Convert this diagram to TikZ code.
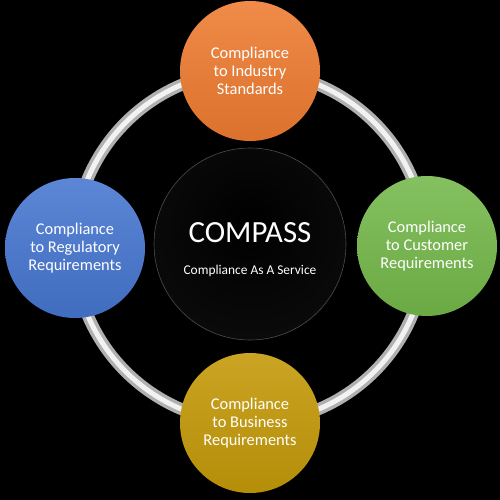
\documentclass[tikz,border=0pt]{standalone}
\usepackage{fontspec}
\setmainfont{Carlito}
\usepackage{xcolor}
\usepackage{tikz}

\definecolor{orangeball}{HTML}{EE7B30}
\definecolor{blueball}{HTML}{4676D0}
\definecolor{greenball}{HTML}{74B84A}
\definecolor{goldball}{HTML}{C49A0A}
\definecolor{ringgray}{HTML}{B0B0B0}

\pgfdeclareradialshading{hubshade}{\pgfpoint{0bp}{6bp}}{color(0bp)=(black); color(28bp)=(black!96!white); color(46bp)=(black!82!white); color(56bp)=(black!62!white)}

\begin{document}
\begin{tikzpicture}[x=1pt, y=-1pt,
    ball/.style={circle, minimum size=140pt, inner sep=0pt, align=center, text=white,
        font=\fontsize{16.4}{18}\selectfont},
    hub/.style={circle, minimum size=192pt, inner sep=0pt, shading=hubshade,
        draw=black!70!white, line width=0.6pt},
    ring/.style={line width=12pt, draw=ringgray}
]
    % Background
    \fill[black] (0,0) rectangle (500,500);

    % Ring
    \coordinate (centre) at (250,247);
    \draw[ring] (centre) circle (176);
    \draw[line width=5pt, white!90!gray] (centre) circle (176);

    % Hub
    \node[hub] (hub) at (250,244) {};
    \node[text=white, font=\fontsize{30.8}{34}\selectfont] (title) at (250,233) {COMPASS};
    \node[text=white, font=\fontsize{13.4}{16}\selectfont] (tagline) at (250,271) {Compliance As A Service};

    % Industry
    \node[ball, top color=orangeball!88!white, bottom color=orangeball!92!black] (industry) at (250,71)
        {Compliance\\to Industry\\Standards};

    % Regulatory
    \node[ball, top color=blueball!88!white, bottom color=blueball!92!black] (regulatory) at (75,248)
        {Compliance\\to Regulatory\\Requirements};

    % Customer
    \node[ball, top color=greenball!88!white, bottom color=greenball!92!black] (customer) at (427,246)
        {Compliance\\to Customer\\Requirements};

    % Business
    \node[ball, top color=goldball!90!white, bottom color=goldball!92!black] (business) at (250,423)
        {Compliance\\to Business\\Requirements};
\end{tikzpicture}
\end{document}
